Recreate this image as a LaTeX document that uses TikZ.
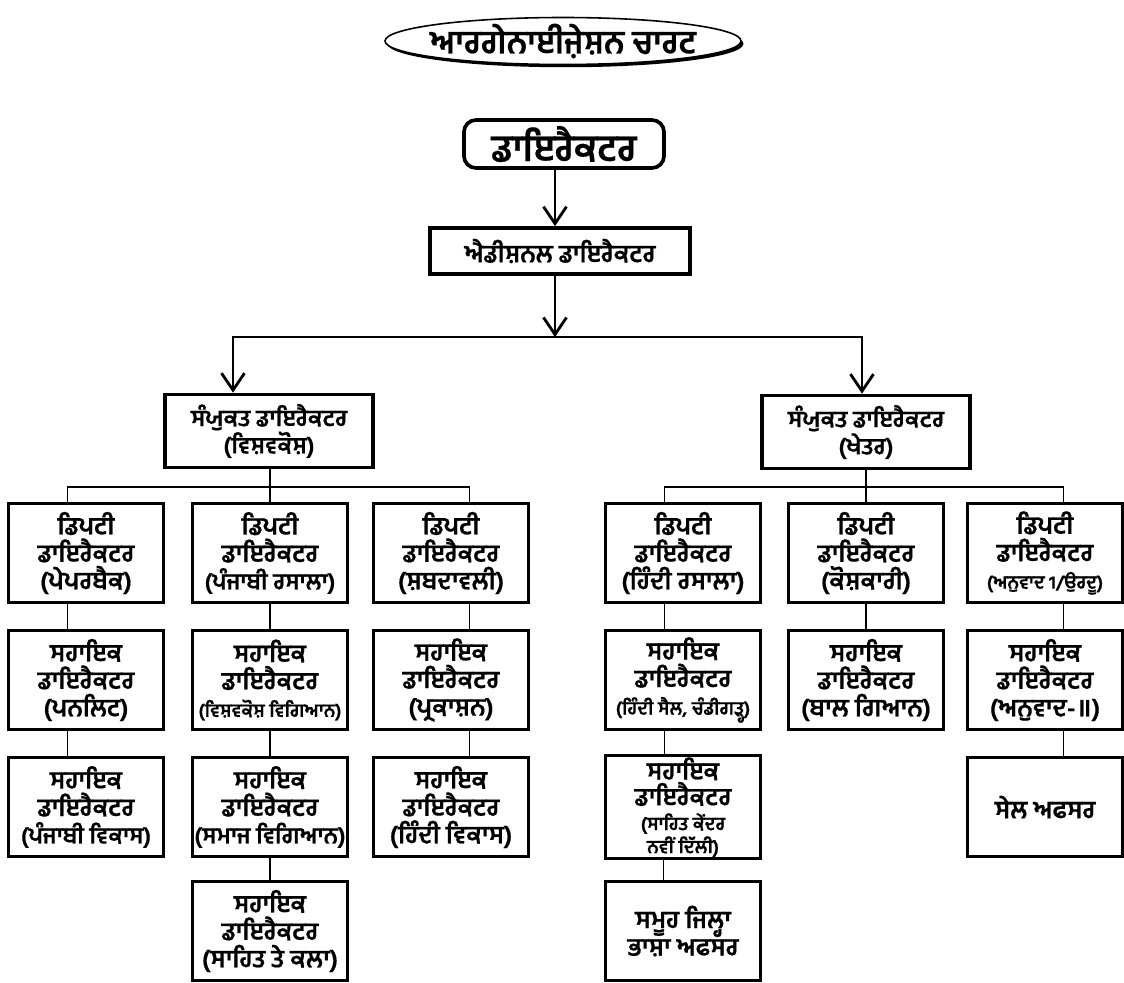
\documentclass[tikz,border=0pt]{standalone}
\usepackage{fontspec}
\newfontfamily\gurmukhi[Script=Gurmukhi, BoldFeatures={FakeBold=0.6}]{Hind Jalandhar}
\usepackage{tikz}
\usetikzlibrary{arrows.meta, shadows}
\newcommand{\smline}[1]{{\fontsize{10.5}{12}\selectfont #1}}
\newcommand{\midline}[1]{{\fontsize{13}{14}\selectfont #1}}
\newcommand{\tightlines}{\lineskiplimit=-\maxdimen}
\tikzset{
  ovaltitle/.style={draw=black, line width=0.9pt, fill=white,
                    drop shadow={shadow xshift=0.5mm, shadow yshift=-0.55mm, fill=black, opacity=1}},
  titletext/.style={font=\gurmukhi\bfseries\fontsize{18.5}{24}\selectfont, inner sep=0pt},
  dirbox/.style ={rectangle, rounded corners=2.4mm, draw=black, line width=2.1pt, fill=white,
                  minimum width=4.0cm, minimum height=0.96cm, inner sep=2pt, font=\gurmukhi\bfseries\fontsize{21}{24}\selectfont},
  addbox/.style ={rectangle, draw=black, line width=2.1pt, fill=white, minimum width=5.2cm, minimum height=0.92cm,
                  inner sep=2pt, font=\gurmukhi\bfseries\fontsize{14}{15}\selectfont},
  jbox/.style   ={rectangle, draw=black, line width=2.1pt, fill=white, align=center, minimum width=4.16cm,
                  minimum height=1.46cm, inner sep=1pt, font=\gurmukhi\bfseries\fontsize{13.2}{15.5}\selectfont\tightlines},
  obox/.style   ={rectangle, draw=black, line width=2.1pt, fill=white, align=center, minimum width=3.1cm,
                  minimum height=1.98cm, inner sep=1pt, font=\gurmukhi\bfseries\fontsize{14}{15.6}\selectfont\tightlines},
  bigarr/.style ={-{Straight Barb[length=3.4mm, width=4.6mm]}, line width=1.6pt},
  link/.style   ={line width=0.9pt},
}

\begin{document}
\begin{tikzpicture}[x=0.2mm, y=-0.2mm]
  \fill[white] (0,0) rectangle (1124,983);
  \useasboundingbox (0,0) rectangle (1124,983);
  % title and top levels
  \coordinate (tc) at (563,41);
  \draw[ovaltitle] (tc) ellipse [x radius=3.56cm, y radius=0.47cm];
  \node[titletext] (title) at (tc) {ਆਰਗੇਨਾਈਜ਼ੇਸ਼ਨ ਚਾਰਟ};
  \node[dirbox] (dir) at (564,144) {ਡਾਇਰੈਕਟਰ};
  \node[addbox] (add) at (560,251) {ਐਡੀਸ਼ਨਲ ਡਾਇਰੈਕਟਰ};
  \node[jbox] (jl) at (269,431) {ਸੰਯੁਕਤ ਡਾਇਰੈਕਟਰ\\(ਵਿਸ਼ਵਕੋਸ਼)};
  \node[jbox] (jr) at (866,432) {ਸੰਯੁਕਤ ਡਾਇਰੈਕਟਰ\\(ਖੇਤਰ)};
  \coordinate (busm) at (555,337);
  \coordinate (busl) at (233,337);
  \coordinate (busr) at (862,337);
  \coordinate (rowbus) at (0,487);
  \draw[bigarr] (dir.south -| busm) -- (add.north -| busm);
  \draw[bigarr] (add.south -| busm) -- (busm);
  \draw[bigarr, {Straight Barb[length=3.4mm, width=4.6mm]}-{Straight Barb[length=3.4mm, width=4.6mm]}]
    (busl |- jl.north) -- (busl) -- (busr) -- (busr |- jr.north);
  % deputy directors
  \node[obox] (d1) at (86,553)  {ਡਿਪਟੀ\\ਡਾਇਰੈਕਟਰ\\(ਪੇਪਰਬੈਕ)};
  \node[obox] (d2) at (270,553) {ਡਿਪਟੀ\\ਡਾਇਰੈਕਟਰ\\\midline{(ਪੰਜਾਬੀ ਰਸਾਲਾ)}};
  \node[obox] (d3) at (451,553) {ਡਿਪਟੀ\\ਡਾਇਰੈਕਟਰ\\(ਸ਼ਬਦਾਵਲੀ)};
  \node[obox] (d4) at (683,553) {ਡਿਪਟੀ\\ਡਾਇਰੈਕਟਰ\\(ਹਿੰਦੀ ਰਸਾਲਾ)};
  \node[obox] (d5) at (866,553) {ਡਿਪਟੀ\\ਡਾਇਰੈਕਟਰ\\(ਕੋਸ਼ਕਾਰੀ)};
  \node[obox] (d6) at (1045,553) {ਡਿਪਟੀ\\ਡਾਇਰੈਕਟਰ\\\smline{(ਅਨੁਵਾਦ 1/ਉਰਦੂ)}};
  % assistant directors
  \node[obox] (a1) at (86,680)  {ਸਹਾਇਕ\\ਡਾਇਰੈਕਟਰ\\(ਪਨਲਿਟ)};
  \node[obox] (a2) at (270,680) {ਸਹਾਇਕ\\ਡਾਇਰੈਕਟਰ\\\smline{(ਵਿਸ਼ਵਕੋਸ਼ ਵਿਗਿਆਨ)}};
  \node[obox] (a3) at (451,680) {ਸਹਾਇਕ\\ਡਾਇਰੈਕਟਰ\\(ਪ੍ਰਕਾਸ਼ਨ)};
  \node[obox] (a4) at (683,680) {ਸਹਾਇਕ\\ਡਾਇਰੈਕਟਰ\\\smline{(ਹਿੰਦੀ ਸੈਲ, ਚੰਡੀਗੜ੍ਹ)}};
  \node[obox] (a5) at (866,680) {ਸਹਾਇਕ\\ਡਾਇਰੈਕਟਰ\\(ਬਾਲ ਗਿਆਨ)};
  \node[obox] (a6) at (1045,680) {ਸਹਾਇਕ\\ਡਾਇਰੈਕਟਰ\\(ਅਨੁਵਾਦ-॥)};
  \node[obox] (b1) at (86,807)  {ਸਹਾਇਕ\\ਡਾਇਰੈਕਟਰ\\\midline{(ਪੰਜਾਬੀ ਵਿਕਾਸ)}};
  \node[obox] (b2) at (270,807) {ਸਹਾਇਕ\\ਡਾਇਰੈਕਟਰ\\\midline{(ਸਮਾਜ ਵਿਗਿਆਨ)}};
  \node[obox] (b3) at (451,807) {ਸਹਾਇਕ\\ਡਾਇਰੈਕਟਰ\\(ਹਿੰਦੀ ਵਿਕਾਸ)};
  \node[obox] (b4) at (683,807) {ਸਹਾਇਕ\\[-1pt]ਡਾਇਰੈਕਟਰ\\[-1.5pt]\smline{(ਸਾਹਿਤ ਕੇਂਦਰ}\\[-2.5pt]\smline{ਨਵੀਂ ਦਿੱਲੀ)}};
  \node[obox] (b6) at (1045,807) {ਸੇਲ ਅਫਸਰ};
  \node[obox] (c2) at (270,931) {ਸਹਾਇਕ\\ਡਾਇਰੈਕਟਰ\\(ਸਾਹਿਤ ਤੇ ਕਲਾ)};
  \node[obox] (c4) at (683,931) {ਸਮੂਹ ਜਿਲ੍ਹਾ\\ਭਾਸ਼ਾ ਅਫਸਰ};
  % thin connectors
  \draw[link] (jl.south -| d2.north) -- (d2.north);
  \draw[link] (jr.south -| d5.north) -- (d5.north);
  \draw[link] (d1.110) |- (d3.70 |- rowbus) -- (d3.70);
  \draw[link] (d4.110) |- (d6.70 |- rowbus) -- (d6.70);
  \foreach \u/\v in {d1.250/a1.110, a1.250/b1.110, d2.south/a2.north, a2.south/b2.north, b2.south/c2.north,
                     d3.290/a3.70, a3.290/b3.70, d4.250/a4.110, a4.250/b4.110, b4.250/c4.110,
                     d5.south/a5.north, d6.290/a6.70, a6.290/b6.70}
    \draw[link] (\u) -- (\u |- \v);
\end{tikzpicture}
\end{document}
